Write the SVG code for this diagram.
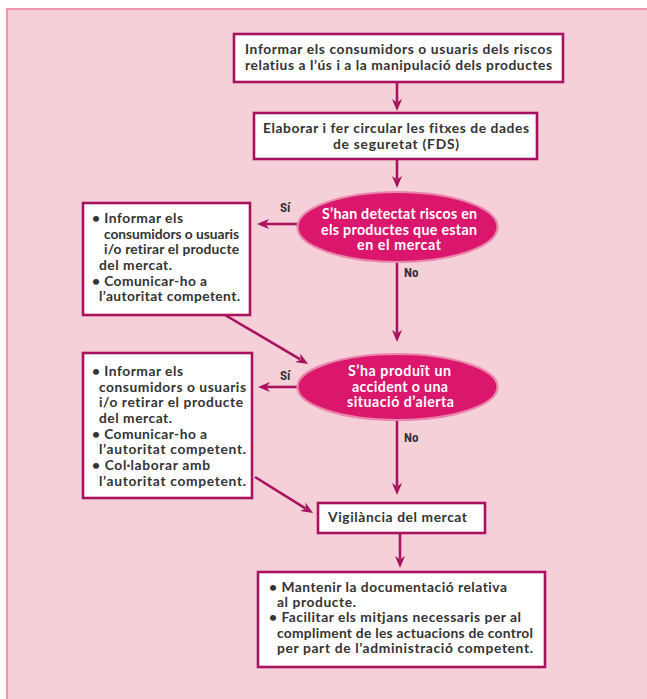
<svg xmlns="http://www.w3.org/2000/svg" width="647" height="699" viewBox="0 0 647 699">
<style>
.frame{fill:#f5d0d9;stroke:#ee93ae;stroke-width:2}
.box{fill:#ffffff;stroke:#a8125e;stroke-width:2.6}
.ell{fill:#da166d;stroke:#ea86aa;stroke-width:2.2}
.t{font-family:Lato,"Liberation Sans",sans-serif;font-weight:bold;font-size:13.8px;fill:#333333;font-variant-ligatures:none}
.w{font-family:Lato,"Liberation Sans",sans-serif;font-weight:bold;font-size:14.2px;fill:#ffffff;font-variant-ligatures:none}
.lab{font-family:"Liberation Sans Narrow","Roboto Condensed","Liberation Sans",sans-serif;font-weight:bold;font-size:13px;fill:#333333}
.con{fill:none;stroke:#a8125e;stroke-width:2.6}
</style>
<defs>
<marker id="ah" viewBox="0 0 12 10" refX="3" refY="5" markerWidth="12" markerHeight="10" markerUnits="userSpaceOnUse" orient="auto">
<path d="M0,0 L12,5 L0,10 L3.5,5 z" fill="#a8125e"/>
</marker>
</defs>
<rect width="647" height="699" fill="#ffffff"/>
<rect class="frame" x="7" y="9" width="660" height="710"/>

<g id="connectors">
<line class="con" x1="397" y1="83" x2="397" y2="102" marker-end="url(#ah)"/>
<line class="con" x1="397" y1="160" x2="397" y2="179" marker-end="url(#ah)"/>
<line class="con" x1="297" y1="224" x2="266" y2="224" marker-end="url(#ah)"/>
<line class="con" x1="397" y1="262" x2="397" y2="333" marker-end="url(#ah)"/>
<line class="con" x1="225" y1="315" x2="300.3" y2="359.4" marker-end="url(#ah)"/>
<line class="con" x1="297" y1="387" x2="267" y2="387" marker-end="url(#ah)"/>
<line class="con" x1="397" y1="420" x2="397" y2="486" marker-end="url(#ah)"/>
<line class="con" x1="255" y1="477" x2="305.4" y2="508.3" marker-end="url(#ah)"/>
<line class="con" x1="400" y1="534" x2="400" y2="559" marker-end="url(#ah)"/>
<text class="lab" x="280" y="212">Sí</text>
<text class="lab" x="404" y="277">No</text>
<text class="lab" x="280" y="380">Sí</text>
<text class="lab" x="404" y="442">No</text>
</g>

<g id="n1">
<rect class="box" x="234" y="34" width="329" height="48"/>
<text class="t" x="245" y="54" textLength="307" lengthAdjust="spacing">Informar els consumidors o usuaris dels riscos</text>
<text class="t" x="245" y="70" textLength="307" lengthAdjust="spacing">relatius a l’ús i a la manipulació dels productes</text>
</g>

<g id="n2">
<rect class="box" x="254" y="113" width="283" height="46"/>
<text class="t" x="263" y="133" textLength="266" lengthAdjust="spacing">Elaborar i fer circular les fitxes de dades</text>
<text class="t" x="333" y="149" textLength="126" lengthAdjust="spacing">de seguretat (FDS)</text>
</g>

<g id="d1">
<ellipse class="ell" cx="397.5" cy="227" rx="100" ry="35"/>
<text class="w" x="322" y="219" textLength="155" lengthAdjust="spacing">S’han detectat riscos en</text>
<text class="w" x="321" y="235" textLength="156" lengthAdjust="spacing">els productes que estan</text>
<text class="w" x="357" y="250" textLength="84" lengthAdjust="spacing">en el mercat</text>
</g>

<g id="l1">
<rect class="box" x="83" y="203" width="167" height="112"/>
<text class="t" x="92" y="223" textLength="91" lengthAdjust="spacing">• Informar els</text>
<text class="t" x="104" y="239" textLength="135" lengthAdjust="spacing">consumidors o usuaris</text>
<text class="t" x="104" y="254" textLength="135" lengthAdjust="spacing">i/o retirar el producte</text>
<text class="t" x="99" y="270" textLength="73" lengthAdjust="spacing">del mercat.</text>
<text class="t" x="92" y="286" textLength="115" lengthAdjust="spacing">• Comunicar-ho a</text>
<text class="t" x="99" y="301" textLength="141" lengthAdjust="spacing">l’autoritat competent.</text>
</g>

<g id="d2">
<ellipse class="ell" cx="397.5" cy="387" rx="100" ry="33"/>
<text class="w" x="348" y="376" textLength="103" lengthAdjust="spacing">S’ha produït un</text>
<text class="w" x="352" y="392" textLength="96" lengthAdjust="spacing">accident o una</text>
<text class="w" x="347" y="407" textLength="107" lengthAdjust="spacing">situació d’alerta</text>
</g>

<g id="l2">
<rect class="box" x="83" y="353" width="169" height="145"/>
<text class="t" x="92" y="376" textLength="91" lengthAdjust="spacing">• Informar els</text>
<text class="t" x="99" y="392" textLength="147" lengthAdjust="spacing">consumidors o usuaris</text>
<text class="t" x="99" y="407" textLength="144" lengthAdjust="spacing">i/o retirar el producte</text>
<text class="t" x="99" y="423" textLength="73" lengthAdjust="spacing">del mercat.</text>
<text class="t" x="92" y="439" textLength="115" lengthAdjust="spacing">• Comunicar-ho a</text>
<text class="t" x="99" y="454" textLength="147" lengthAdjust="spacing">l’autoritat competent.</text>
<text class="t" x="92" y="470" textLength="118" lengthAdjust="spacing">• Col·laborar amb</text>
<text class="t" x="99" y="486" textLength="147" lengthAdjust="spacing">l’autoritat competent.</text>
</g>

<g id="n3">
<rect class="box" x="318" y="503" width="167" height="30"/>
<text class="t" x="328" y="522" textLength="139" lengthAdjust="spacing">Vigilància del mercat</text>
</g>

<g id="n4">
<rect class="box" x="258" y="572" width="287" height="95"/>
<text class="t" x="269" y="592" textLength="238" lengthAdjust="spacing">• Mantenir la documentació relativa</text>
<text class="t" x="277" y="607" textLength="79" lengthAdjust="spacing">al producte.</text>
<text class="t" x="269" y="622" textLength="252" lengthAdjust="spacing">• Facilitar els mitjans necessaris per al</text>
<text class="t" x="277" y="638" textLength="256" lengthAdjust="spacing">compliment de les actuacions de control</text>
<text class="t" x="277" y="653" textLength="256" lengthAdjust="spacing">per part de l’administració competent.</text>
</g>
</svg>
